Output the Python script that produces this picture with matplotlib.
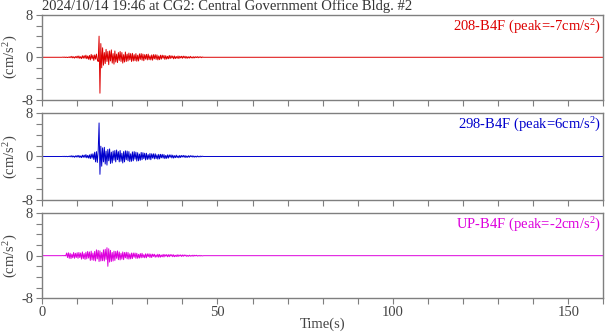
import numpy as np
import matplotlib
matplotlib.use("Agg")
import matplotlib.pyplot as plt
from matplotlib.ticker import MultipleLocator

plt.rcParams['font.family'] = ['Liberation Serif', 'DejaVu Serif']
plt.rcParams['mathtext.fontset'] = 'custom'
plt.rcParams['mathtext.rm'] = 'Liberation Serif'

title = "2024/10/14 19:46 at CG2: Central Government Office Bldg. #2"
names = ["208-B4F", "298-B4F", "UP-B4F"]
peaks = [-7, 6, -2]
colors = ["#dd0000", "#0000cc", "#dd00dd"]

t0, dt, t_end = 6.0, 0.25, 160.0

ch208 = [
    0.05, -0.04, 0.06, -0.05, 0.04, -0.06, 0.05, -0.05,      # 6-8
    0.12, -0.08, 0.18, -0.12, 0.1, -0.16, 0.14, -0.1,        # 8-10
    0.22, -0.15, 0.25, -0.2, 0.12, -0.26, 0.3, -0.18,        # 10-12
    0.3, -0.2, 0.4, -0.28, 0.25, -0.38, 0.35, -0.5,          # 12-14
    0.55, -0.3, 0.4, -0.6, 0.45, -0.35, 0.6, -0.45,          # 14-16
    -0.8, 4.0, -6.8, 2.6, -2.0, 1.8, -1.5, 0.9,              # 16-18
    -1.2, 1.5, -0.8, 1.1, -1.4, 1.2, -0.7, 1.4,              # 18-20
    -1.1, 0.7, -1.3, 1.2, -0.9, 0.6, -1.0, 0.9,              # 20-22
    -0.6, 1.1, -0.8, 0.9, -1.1, 0.5, -0.9, 1.0,              # 22-24
    -0.8, 0.6, -0.7, 0.8, -0.5, 0.7, -0.8, 0.75,             # 24-26
    -0.7, 0.5, -0.65, 0.7, -0.75, 0.4, -0.7, 0.65,           # 26-28
    -0.4, 0.7, -0.55, 0.6, -0.65, 0.5, -0.35, 0.55,          # 28-30
    -0.5, 0.6, -0.45, 0.3, -0.5, 0.45, -0.55, 0.5,           # 30-32
    -0.3, 0.5, -0.4, 0.45, -0.5, 0.25, -0.45, 0.4,           # 32-34
    -0.35, 0.4, -0.2, 0.35, -0.4, 0.3, -0.35, 0.2,           # 34-36
    -0.3, 0.35, -0.25, 0.3, -0.15, 0.25, -0.3, 0.25,         # 36-38
    -0.25, 0.15, -0.2, 0.25, -0.25, 0.2, -0.12, 0.2,         # 38-40
    -0.2, 0.22, -0.12, 0.2, -0.2, 0.15, -0.18, 0.1,          # 40-42
    -0.15, 0.18, -0.12, 0.08, -0.15, 0.12, -0.12, 0.1,       # 42-44
    -0.06, 0.12, -0.1, 0.1, -0.05, 0.1, -0.08, 0.06,         # 44-46
]

ch298 = [
    0.03, -0.03, 0.04, -0.03, 0.03, -0.04, 0.03, -0.03,      # 6-8
    0.1, -0.08, 0.15, -0.1, 0.08, -0.15, 0.12, -0.1,         # 8-10
    0.18, -0.12, 0.2, -0.18, 0.1, -0.22, 0.25, -0.15,        # 10-12
    0.25, -0.18, 0.35, -0.25, 0.2, -0.3, 0.3, -0.4,          # 12-14
    0.45, -0.3, 0.5, -0.55, 0.8, -1.0, 0.9, -1.1,            # 14-16
    1.0, 6.2, -3.3, 1.9, -1.8, 1.6, -1.0, 1.7,               # 16-18
    -1.4, 1.0, -1.6, 1.3, -0.8, 1.4, -1.3, 0.8,              # 18-20
    -1.2, 1.0, -0.7, 1.1, -1.0, 1.2, -0.6, 0.9,              # 20-22
    -1.0, 1.1, -0.9, 0.6, -1.2, 0.9, -1.0, 1.05,             # 22-24
    -0.6, 1.0, -0.8, 0.9, -0.95, 0.5, -0.9, 0.85,            # 24-26
    -0.8, 0.9, -0.5, 0.8, -0.85, 0.7, -0.8, 0.45,            # 26-28
    -0.7, 0.75, -0.6, 0.7, -0.4, 0.6, -0.65, 0.6,            # 28-30
    -0.55, 0.35, -0.5, 0.55, -0.6, 0.5, -0.3, 0.5,           # 30-32
    -0.45, 0.5, -0.4, 0.3, -0.5, 0.4, -0.45, 0.4,            # 32-34
    -0.25, 0.4, -0.3, 0.35, -0.4, 0.2, -0.35, 0.3,           # 34-36
    -0.3, 0.3, -0.15, 0.3, -0.28, 0.25, -0.3, 0.15,          # 36-38
    -0.22, 0.25, -0.2, 0.12, -0.25, 0.2, -0.2, 0.18,         # 38-40
    -0.1, 0.2, -0.15, 0.18, -0.2, 0.1, -0.16, 0.14,          # 40-42
    -0.14, 0.15, -0.06, 0.14, -0.12, 0.1, -0.12, 0.05,       # 42-44
    -0.1, 0.1, -0.08, 0.05, -0.08, 0.08, -0.04, 0.05,        # 44-46
]

chUP = [
    0.03, -0.03, 0.04, -0.03, 0.5, -0.35, 0.55, -0.5,        # 6-8
    0.45, -0.55, 0.3, -0.4, 0.6, -0.5, 0.45, -0.35,          # 8-10
    0.55, -0.5, 0.6, -0.35, 0.5, -0.65, 0.7, -0.55,          # 10-12
    0.4, -0.7, 0.65, -0.6, 0.8, -0.45, 0.7, -0.9,            # 12-14
    0.85, -0.8, 0.5, -0.9, 0.8, -1.0, 1.1, -0.6,             # 14-16
    1.0, -1.1, 0.9, -1.0, 0.6, -0.95, 1.1, -1.0,             # 16-18
    1.2, -0.7, 1.5, -2.0, 1.3, -1.2, 1.0, -1.1,              # 18-20
    0.6, -1.0, 0.85, -0.9, 0.8, -0.5, 0.9, -0.75,            # 20-22
    0.7, -0.8, 0.45, -0.65, 0.7, -0.75, 0.6, -0.4,           # 22-24
    0.65, -0.6, 0.6, -0.65, 0.35, -0.6, 0.5, -0.55,          # 24-26
    0.5, -0.3, 0.5, -0.5, 0.45, -0.5, 0.25, -0.45,           # 26-28
    0.4, -0.4, 0.45, -0.35, 0.2, -0.4, 0.35, -0.4,           # 28-30
    0.35, -0.2, 0.35, -0.35, 0.3, -0.35, 0.3, -0.15,         # 30-32
    0.28, -0.3, 0.15, -0.25, 0.28, -0.3, 0.25, -0.28,        # 32-34
    0.12, -0.22, 0.25, -0.25, 0.22, -0.1, 0.2, -0.22,        # 34-36
    0.2, -0.2, 0.22, -0.1, 0.2, -0.2, 0.18, -0.2,            # 36-38
    0.08, -0.16, 0.18, -0.18, 0.15, -0.08, 0.15, -0.15,      # 38-40
    0.14, -0.12, 0.15, -0.06, 0.12, -0.14, 0.06, -0.12,      # 40-42
    0.1, -0.1, 0.05, -0.1, 0.1, -0.1, 0.08, -0.04,           # 42-44
    0.08, -0.08, 0.04, -0.07, 0.06, -0.07, 0.03, -0.05,      # 44-46
]

traces = [ch208, ch298, chUP]

grey = "#7f7f7f"
txt = "#444444"
fs = 10.5

fig = plt.figure(figsize=(6.05, 3.34), dpi=100)
left, width = 0.0695, 0.928
boxes = [(0.702, 0.253), (0.402, 0.259), (0.107, 0.255)]

axes = []
for i, (vals, name, pk, col) in enumerate(zip(traces, names, peaks, colors)):
    bottom, height = boxes[i]
    ax = fig.add_axes([left, bottom, width, height])
    tt = t0 + dt * np.arange(len(vals))
    x = np.concatenate([[0.0, t0 - dt], tt, [tt[-1] + dt, t_end]])
    y = np.concatenate([[0.0, 0.0], vals, [0.0, 0.0]])
    ax.plot(x, y, color=col, lw=0.7)
    ax.set_xlim(0, 160)
    ax.set_ylim(-8, 8)
    ax.set_yticks([-8, 0, 8])
    ax.set_yticklabels(["-8", "0", "8"])
    ax.yaxis.set_minor_locator(MultipleLocator(2))
    ax.xaxis.set_major_locator(MultipleLocator(50))
    ax.xaxis.set_minor_locator(MultipleLocator(10))
    ax.tick_params(which='both', direction='out', length=4, width=0.8,
                   color=grey, labelcolor=txt, labelsize=fs, pad=2.5)
    ax.tick_params(axis='x', pad=1.5)
    for s in ax.spines.values():
        s.set_color(grey)
        s.set_linewidth(1.0)
    ax.set_ylabel("(cm/s$\\mathregular{^2}$)", color=txt, fontsize=fs, labelpad=1)
    ax.text(0.995, 0.97, f"{name} (peak={pk}cm/s$\\mathregular{{^2}}$)",
            transform=ax.transAxes, ha='right', va='top', color=col, fontsize=fs)
    if i < 2:
        ax.tick_params(axis='x', labelbottom=False)
    axes.append(ax)

axes[-1].set_xlabel("Time(s)", color=txt, fontsize=fs, labelpad=-1)
fig.text(left, 0.962, title, ha='left', va='bottom', color="#333333", fontsize=fs)

fig.savefig("out.png", dpi=100)
